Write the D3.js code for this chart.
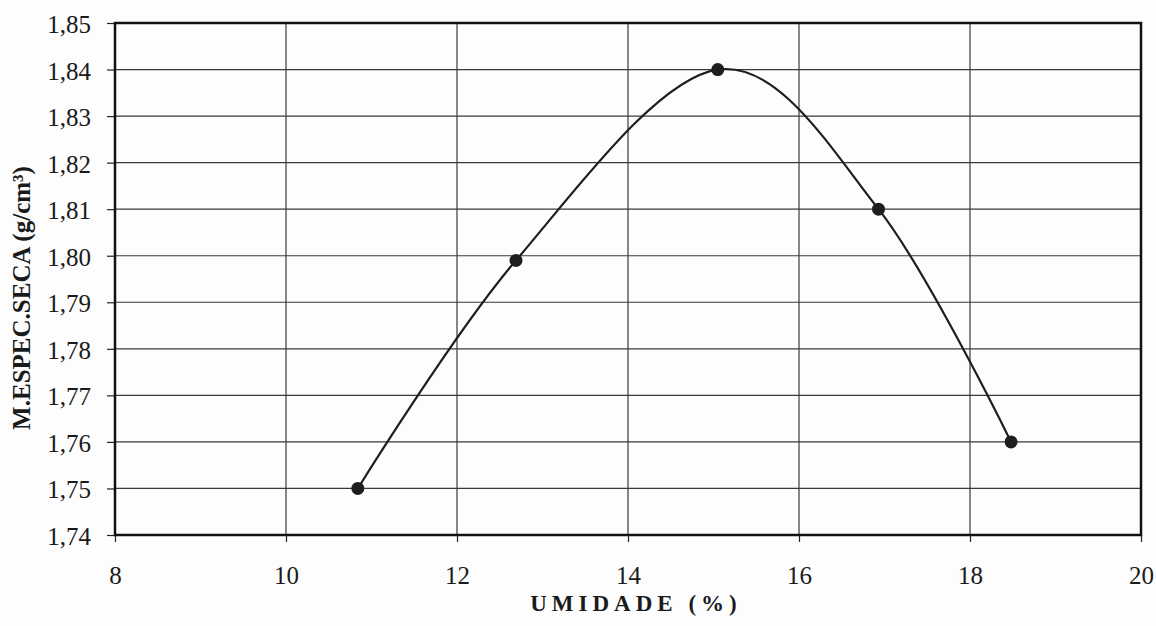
<!DOCTYPE html>
<html lang="pt">
<head>
    <meta charset="UTF-8">
    <title>Curva de Compactação</title>
    <script src="https://cdn.jsdelivr.net/npm/d3@7"></script>
    <style>
        body {
            margin: 0;
            background-color: #fdfdfd;
        }

        svg {
            display: block;
        }

        text {
            font-family: 'Liberation Serif', 'Times New Roman', serif;
            fill: #1a1a1a;
        }

        .tick text {
            font-size: 25px;
        }
    </style>
</head>
<body>
    <svg id="chart" width="1156" height="626"></svg>

    <script>
        // umidade (%) e massa específica seca (g/cm³)
        const umidade = [10.84, 12.69, 15.05, 16.93, 18.48];
        const massaSeca = [1.750, 1.799, 1.840, 1.810, 1.760];

        const xTicks = [8, 10, 12, 14, 16, 18, 20];
        const yTicks = [1.74, 1.75, 1.76, 1.77, 1.78, 1.79, 1.80, 1.81, 1.82, 1.83, 1.84, 1.85];

        const width = 1156;
        const height = 626;
        const margin = { top: 23, right: 15, bottom: 91, left: 115 };

        const svg = d3.select("#chart")
            .attr("viewBox", [0, 0, width, height]);

        const x = d3.scaleLinear()
            .domain([8, 20])
            .range([margin.left, width - margin.right]);

        const y = d3.scaleLinear()
            .domain([1.74, 1.85])
            .range([height - margin.bottom, margin.top]);

        const fmt = d => d3.format(".2f")(d).replace(".", ",");

        // grade
        svg.append("g")
            .selectAll("line")
            .data(yTicks)
            .join("line")
            .attr("x1", margin.left)
            .attr("x2", width - margin.right)
            .attr("y1", d => y(d))
            .attr("y2", d => y(d))
            .attr("stroke", "#3a3a3a")
            .attr("stroke-width", 1.2);

        svg.append("g")
            .selectAll("line")
            .data(xTicks)
            .join("line")
            .attr("x1", d => x(d))
            .attr("x2", d => x(d))
            .attr("y1", margin.top)
            .attr("y2", height - margin.bottom)
            .attr("stroke", "#3a3a3a")
            .attr("stroke-width", 1.2);

        // eixos
        svg.append("g")
            .attr("transform", `translate(${margin.left},0)`)
            .call(d3.axisLeft(y).tickValues(yTicks).tickFormat(fmt).tickSize(8).tickPadding(16))
            .call(g => g.select(".domain").remove())
            .call(g => g.selectAll("line").attr("stroke", "#222").attr("stroke-width", 1.2))
            .call(g => g.selectAll("text").attr("dy", "0.38em"));

        svg.append("g")
            .attr("transform", `translate(0,${height - margin.bottom})`)
            .call(d3.axisBottom(x).tickValues(xTicks).tickSize(7).tickPadding(24))
            .call(g => g.select(".domain").remove())
            .call(g => g.selectAll("line").attr("stroke", "#222").attr("stroke-width", 1.2));

        // moldura
        svg.append("rect")
            .attr("x", margin.left)
            .attr("y", margin.top)
            .attr("width", width - margin.left - margin.right)
            .attr("height", height - margin.top - margin.bottom)
            .attr("fill", "none")
            .attr("stroke", "#111")
            .attr("stroke-width", 2.5);

        // curva suavizada
        const pontos = umidade.map((u, i) => [u, massaSeca[i]]);

        const line = d3.line()
            .x(d => x(d[0]))
            .y(d => y(d[1]))
            .curve(d3.curveCardinal.tension(0));

        svg.append("path")
            .datum(pontos)
            .attr("d", line)
            .attr("fill", "none")
            .attr("stroke", "#1e1e1e")
            .attr("stroke-width", 2.2);

        svg.append("g")
            .selectAll("circle")
            .data(pontos)
            .join("circle")
            .attr("cx", d => x(d[0]))
            .attr("cy", d => y(d[1]))
            .attr("r", 6.5)
            .attr("fill", "#1e1e1e");

        // títulos
        svg.append("text")
            .attr("x", (margin.left + width - margin.right) / 2 + 8)
            .attr("y", 611)
            .attr("text-anchor", "middle")
            .style("font-size", "23px")
            .attr("font-weight", "bold")
            .attr("letter-spacing", "5px")
            .text("UMIDADE (%)");

        svg.append("text")
            .attr("transform", "translate(30,298) rotate(-90)")
            .attr("text-anchor", "middle")
            .style("font-size", "25px")
            .attr("font-weight", "bold")
            .text("M.ESPEC.SECA (g/cm³)");
    </script>
</body>
</html>
